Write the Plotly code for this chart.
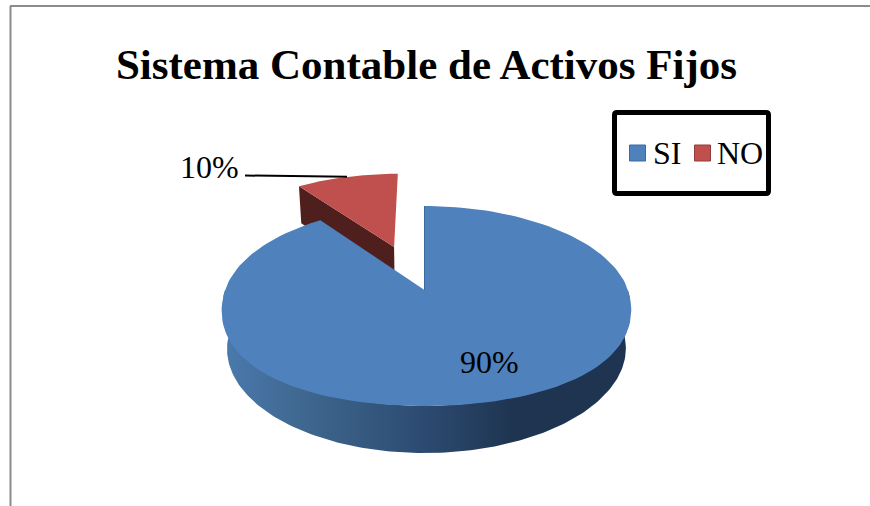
import numpy as np
import plotly.graph_objects as go

# chart data
labels = ['SI', 'NO']
values = [90, 10]
explode = [0, 0.5]
top_colors = ['#4f81bd', '#c0504d']
title = 'Sistema Contable de Activos Fijos'
label_pos = [(489, 362), (209, 167)]
legend_x = [637.5, 702.5]
legend_text_x = [653, 717]
FONT = 'Liberation Serif'

# perspective used to fake the 3D pie (pixels, measured on the picture)
CX, CY = 424.5, 290
A, B, D = 201.4, 97.4, 43.2
P, Q = 0.16, 0.0225
BULGE = 0.03


def project(u, v, z=0, sq=2.0, dx=0.0):
    # sq pushes the sides of the big slice right, the apex stays where it is
    w = 1 + P * v + Q * z
    return CX + dx + A * u / w + sq * u ** 2, CY - (B * v - D * z) / w


def rim(start, end, off=(0, 0), z=0, n=160, bulge=0.0, **kw):
    th = np.radians(np.linspace(start, end, n))
    # the front edge of the original is a bit fuller than a true ellipse
    r = 1 + bulge * np.sin(2 * th) ** 2 * (np.cos(th) < 0)
    return project(off[0] + r * np.sin(th), off[1] + r * np.cos(th), z, **kw)


def poly(x, y, color, **kw):
    return go.Scatter(x=list(x), y=list(y), mode='lines', fill='toself', fillcolor=color,
                      line=dict(width=0), hoverinfo='skip', showlegend=False, **kw)


# slice angles, clockwise from the top
total = sum(values)
ends = np.cumsum(values) / total * 360
starts = ends - np.array(values) / total * 360
mid = np.radians((starts[1] + ends[1]) / 2)
off = (explode[1] * np.sin(mid), explode[1] * np.cos(mid))
red = dict(sq=0, dx=-1.5)

fig = go.Figure()

# NO slice, pulled out: cut face first, then the top
su, cu = np.sin(np.radians(starts[1])), np.cos(np.radians(starts[1]))
xa, ya = project(off[0], off[1], **red)
xb, yb = project(off[0] + su, off[1] + cu, **red)
xa2, ya2 = project(off[0], off[1], 1, **red)
xb2, yb2 = project(off[0] + su, off[1] + cu, 1, **red)
fig.add_trace(poly([xa, xb, xb2, xa2, xa], [ya, yb, yb2, ya2, ya], '#4f1f1d'))
x, y = rim(starts[1], ends[1], off, **red)
fig.add_trace(poly([xa, *x, xa], [ya, *y, ya], top_colors[1]))

# SI slice: side wall with the shading, then the top
x1, y1 = rim(90, 270)
x2, y2 = rim(270, 90, z=1)
fig.add_trace(go.Scatter(
    x=[*x1, *x2, x1[0]], y=[*y1, *y2, y1[0]], mode='lines', fill='toself',
    fillgradient=dict(type='horizontal', start=222, stop=631,
                      colorscale=[[0, '#4a7aae'], [0.2, '#3f678f'], [0.5, '#2c4a70'],
                                  [0.72, '#1e3450'], [1, '#1e3450']]),
    line=dict(width=0), hoverinfo='skip', showlegend=False))
x, y = rim(starts[0], ends[0], bulge=BULGE)
fig.add_trace(poly([CX, *x, CX], [CY, *y, CY], top_colors[0]))
x0, y0 = project(0, 1)
fig.add_trace(go.Scatter(x=[CX, x0], y=[CY, y0], mode='lines', line=dict(color='#3d6a9e', width=1),
                         hoverinfo='skip', showlegend=False))

# leader line for the 10%
xl, yl = project(off[0] + np.sin(mid), off[1] + np.cos(mid), **red)
fig.add_trace(go.Scatter(x=[245, xl], y=[175.5, yl], mode='lines', line=dict(color='black', width=2),
                         hoverinfo='skip', showlegend=False))

# legend drawn by hand, the plotly one can't get the swatches this close to the text
line_colors = ['#3a6a9f', '#923c39']
fig.add_trace(go.Scatter(x=legend_x, y=[153, 153], mode='markers', hoverinfo='skip', showlegend=False,
                         marker=dict(symbol='square', size=16, color=top_colors,
                                     line=dict(color=line_colors, width=1))))
for name, tx in zip(labels, legend_text_x):
    fig.add_annotation(x=tx, y=153, text=name, showarrow=False, xanchor='left', xshift=-2,
                       font=dict(family=FONT, size=32, color='black'))

for v, (lx, ly) in zip(values, label_pos):
    fig.add_annotation(x=lx, y=ly, text=f'{v}%', showarrow=False,
                       font=dict(family=FONT, size=32, color='black'))

frame = dict(type='line', line=dict(color='#8c8c8c', width=2))
fig.add_shape(x0=10.5, x1=10.5, y0=6, y1=506, **frame)
fig.add_shape(x0=10, x1=870, y0=6, y1=6, **frame)
# legend box
fig.add_shape(type='path', path='M 617,112.5 H 766 Q 768.5,112.5 768.5,115 V 191 Q 768.5,193.5 766,193.5 '
                                'H 617 Q 614.5,193.5 614.5,191 V 115 Q 614.5,112.5 617,112.5 Z',
              line=dict(color='black', width=5))

fig.update_layout(
    width=870, height=506,
    margin=dict(l=0, r=0, t=0, b=0),
    paper_bgcolor='white', plot_bgcolor='white',
    showlegend=False,
    title=dict(text=f'<b>{title}</b>', x=426.5 / 870, xanchor='center', y=1 - 64 / 506, yanchor='middle',
               font=dict(family=FONT, size=43, color='black')),
    xaxis=dict(range=[0, 870], visible=False, fixedrange=True),
    yaxis=dict(range=[506, 0], visible=False, fixedrange=True),
)

fig.write_html('out.html', config={'displayModeBar': False},
               post_script="document.body.style.margin='0';")
